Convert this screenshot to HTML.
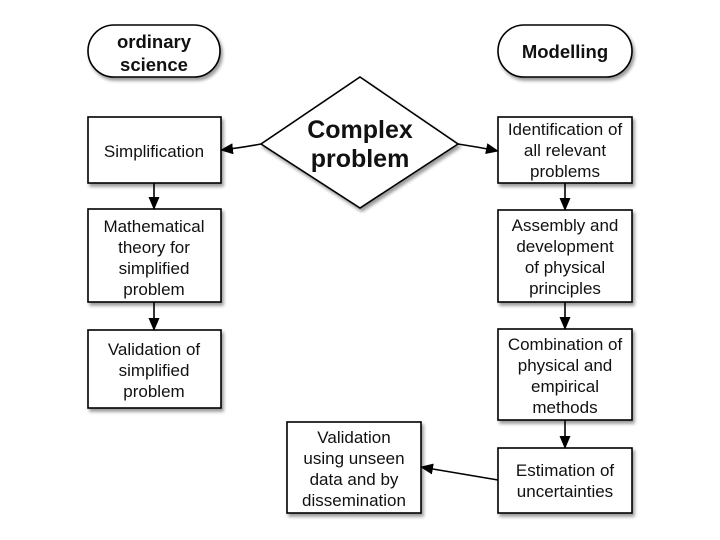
<!DOCTYPE html>
<html><head><meta charset="utf-8"><style>
html,body{margin:0;padding:0;background:#fff}
svg{display:block}
text{font-family:"Liberation Sans",Arial,sans-serif;font-size:17px;fill:#111;text-anchor:middle}
.b{font-weight:bold;font-size:18.5px}
.d{font-weight:bold;font-size:25px}
</style></head><body>
<svg width="720" height="540" viewBox="0 0 720 540" xmlns="http://www.w3.org/2000/svg">
<defs>
<filter id="s" x="-10%" y="-10%" width="130%" height="130%"><feGaussianBlur in="SourceAlpha" stdDeviation="1.5"/><feOffset dx="2" dy="3"/><feComponentTransfer><feFuncA type="linear" slope="0.4"/></feComponentTransfer><feMerge><feMergeNode/><feMergeNode in="SourceGraphic"/></feMerge></filter>
<marker id="a" markerWidth="13" markerHeight="11" refX="12" refY="5.5" orient="auto" markerUnits="userSpaceOnUse"><path d="M0,0 L13,5.5 L0,11 Z" fill="#000"/></marker>
</defs>
<g fill="#fff" stroke="#000" stroke-width="1.6" filter="url(#s)">
<rect x="88" y="25" width="132" height="52" rx="26"/>
<rect x="498" y="25" width="134" height="52" rx="26"/>
<polygon points="360,77 458,144 360,208 261,144"/>
<rect x="88" y="117" width="133" height="66"/>
<rect x="88" y="209" width="133" height="93"/>
<rect x="88" y="330" width="133" height="78"/>
<rect x="498" y="117" width="134" height="66"/>
<rect x="498" y="210" width="134" height="92"/>
<rect x="498" y="329" width="134" height="91"/>
<rect x="498" y="448" width="134" height="65"/>
<rect x="287" y="422" width="134" height="91"/>
</g>
<g stroke="#000" stroke-width="1.6" fill="none" marker-end="url(#a)">
<path d="M261,144 Q240,148 221,150"/>
<path d="M458,144 Q478,147 498,151"/>
<line x1="154" y1="183" x2="154" y2="209"/>
<line x1="154" y1="302" x2="154" y2="330"/>
<line x1="565" y1="183" x2="565" y2="210"/>
<line x1="565" y1="302" x2="565" y2="329"/>
<line x1="565" y1="420" x2="565" y2="448"/>
<line x1="498" y1="480" x2="421" y2="467"/>
</g>
<text class="b" x="154" y="48">ordinary</text>
<text class="b" x="154" y="71">science</text>
<text class="b" x="565" y="58">Modelling</text>
<text class="d" x="360" y="138">Complex</text>
<text class="d" x="360" y="167">problem</text>
<text x="154" y="157">Simplification</text>
<text x="154" y="232">Mathematical</text>
<text x="154" y="253">theory for</text>
<text x="154" y="274">simplified</text>
<text x="154" y="295">problem</text>
<text x="154" y="355">Validation of</text>
<text x="154" y="376">simplified</text>
<text x="154" y="397">problem</text>
<text x="565" y="135">Identification of</text>
<text x="565" y="156">all  relevant</text>
<text x="565" y="177">problems</text>
<text x="565" y="231">Assembly and</text>
<text x="565" y="252">development</text>
<text x="565" y="273">of physical</text>
<text x="565" y="294">principles</text>
<text x="565" y="350">Combination of</text>
<text x="565" y="371">physical and</text>
<text x="565" y="392">empirical</text>
<text x="565" y="413">methods</text>
<text x="565" y="476">Estimation of</text>
<text x="565" y="497">uncertainties</text>
<text x="354" y="443">Validation</text>
<text x="354" y="464">using unseen</text>
<text x="354" y="485">data and by</text>
<text x="354" y="506">dissemination</text>
</svg>
</body></html>
